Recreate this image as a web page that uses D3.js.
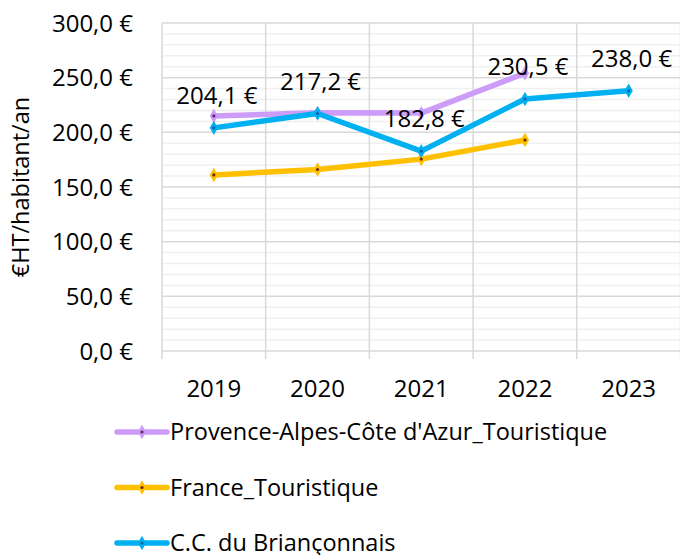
<!DOCTYPE html>
<html>
<head>
<meta charset="utf-8">
<script src="https://cdn.jsdelivr.net/npm/d3@7"></script>
<style>
  body { margin: 0; background: #fff; }
  svg { font-family: "Open Sans", sans-serif; }
</style>
</head>
<body>
<svg id="chart" width="680" height="555"></svg>
<script>
const years = ["2019", "2020", "2021", "2022", "2023"];
const paca = [215.0, 217.8, 217.6, 254.0, null];
const france = [161.0, 166.0, 175.5, 193.0, null];
const brianconnais = [204.1, 217.2, 182.8, 230.5, 238.0];
const yTicks = [0, 50, 100, 150, 200, 250, 300];
const seriesNames = [
  "Provence-Alpes-Côte d'Azur_Touristique",
  "France_Touristique",
  "C.C. du Briançonnais",
];

const series = [
  { name: seriesNames[0], values: paca, color: "#cc9cf8", dot: "#5b2a6e", labels: false },
  { name: seriesNames[1], values: france, color: "#ffc000", dot: "#6b2a10", labels: false },
  { name: seriesNames[2], values: brianconnais, color: "#00b0f0", dot: "#1565a8", labels: true },
];

const fmt = (v) => d3.format(".1f")(v).replace(".", ",") + " €";

const chart = d3.select("#chart");

const xScale = d3.scaleBand().domain(years).range([162, 680.5]);
const yScale = d3.scaleLinear().domain([0, 300]).range([351, 23]);

// minor gridlines
chart
  .append("g")
  .selectAll("line")
  .data(d3.range(10, 300, 10).filter((v) => v % 50 !== 0))
  .enter()
  .append("line")
  .attr("x1", 162)
  .attr("x2", 680.5)
  .attr("y1", (d) => yScale(d))
  .attr("y2", (d) => yScale(d))
  .attr("stroke", "#f0f0f0")
  .attr("stroke-width", 1.5);

// major gridlines
chart
  .append("g")
  .selectAll("line")
  .data(yTicks)
  .enter()
  .append("line")
  .attr("x1", 162)
  .attr("x2", 680.5)
  .attr("y1", (d) => yScale(d))
  .attr("y2", (d) => yScale(d))
  .attr("stroke", "#d9d9d9")
  .attr("stroke-width", 1.5);

// vertical gridlines at category boundaries (extend below axis as ticks)
const bounds = years.map((y) => xScale(y)).concat([xScale.range()[1]]);
chart
  .append("g")
  .selectAll("line")
  .data(bounds)
  .enter()
  .append("line")
  .attr("x1", (d) => d)
  .attr("x2", (d) => d)
  .attr("y1", yScale(300))
  .attr("y2", yScale(0) + 8)
  .attr("stroke", "#d9d9d9")
  .attr("stroke-width", 1.5);

// y tick labels
chart
  .append("g")
  .selectAll("text")
  .data(yTicks)
  .enter()
  .append("text")
  .attr("x", 133)
  .attr("y", (d) => yScale(d))
  .attr("dy", "0.36em")
  .attr("text-anchor", "end")
  .style("font-size", "24px")
  .attr("fill", "#000")
  .text(fmt);

// x tick labels
chart
  .append("g")
  .selectAll("text")
  .data(years)
  .enter()
  .append("text")
  .attr("x", (d) => xScale(d) + xScale.bandwidth() / 2)
  .attr("y", 397)
  .attr("text-anchor", "middle")
  .style("font-size", "24px")
  .text((d) => d);

// y axis title
chart
  .append("text")
  .attr("transform", "translate(29, 187) rotate(-90)")
  .attr("text-anchor", "middle")
  .style("font-size", "23.5px")
  .text("€HT/habitant/an");

const cx = (i) => xScale(years[i]) + xScale.bandwidth() / 2;

const line = d3
  .line()
  .defined((d) => d != null)
  .x((d, i) => cx(i))
  .y((d) => yScale(d));

const diamond = d3.symbol().type(d3.symbolDiamond).size(60);

series.forEach((s) => {
  chart
    .append("path")
    .datum(s.values)
    .attr("d", line)
    .attr("fill", "none")
    .attr("stroke", s.color)
    .attr("stroke-width", 5.5)
    .attr("stroke-linejoin", "round");

  const pts = s.values
    .map((v, i) => ({ v, i }))
    .filter((d) => d.v != null);

  chart
    .append("g")
    .selectAll("path")
    .data(pts)
    .enter()
    .append("path")
    .attr("d", diamond)
    .attr("transform", (d) => `translate(${cx(d.i)},${yScale(d.v)})`)
    .attr("fill", s.color);

  chart
    .append("g")
    .selectAll("circle")
    .data(pts)
    .enter()
    .append("circle")
    .attr("cx", (d) => cx(d.i))
    .attr("cy", (d) => yScale(d.v))
    .attr("r", 1.6)
    .attr("fill", s.dot);
});

// data labels for Briançonnais
const labelled = series.filter((s) => s.labels)[0];
chart
  .append("g")
  .selectAll("text")
  .data(labelled.values)
  .enter()
  .append("text")
  .attr("x", (d, i) => cx(i) + 3)
  .attr("y", (d) => yScale(d) - 24)
  .attr("text-anchor", "middle")
  .style("font-size", "24px")
  .text(fmt);

// legend
const legend = chart
  .append("g")
  .selectAll("g")
  .data(series)
  .enter()
  .append("g")
  .attr("transform", (d, i) => `translate(117, ${432 + i * 55.5})`);

legend
  .append("line")
  .attr("x1", 0)
  .attr("x2", 50)
  .attr("stroke", (d) => d.color)
  .attr("stroke-width", 5.5)
  .attr("stroke-linecap", "round");

legend
  .append("path")
  .attr("d", diamond)
  .attr("transform", "translate(25,0)")
  .attr("fill", (d) => d.color);

legend
  .append("circle")
  .attr("cx", 25)
  .attr("r", 1.6)
  .attr("fill", (d) => d.dot);

legend
  .append("text")
  .attr("x", 53)
  .attr("dy", "0.35em")
  .style("font-size", "23.5px")
  .text((d) => d.name);
</script>
</body>
</html>
